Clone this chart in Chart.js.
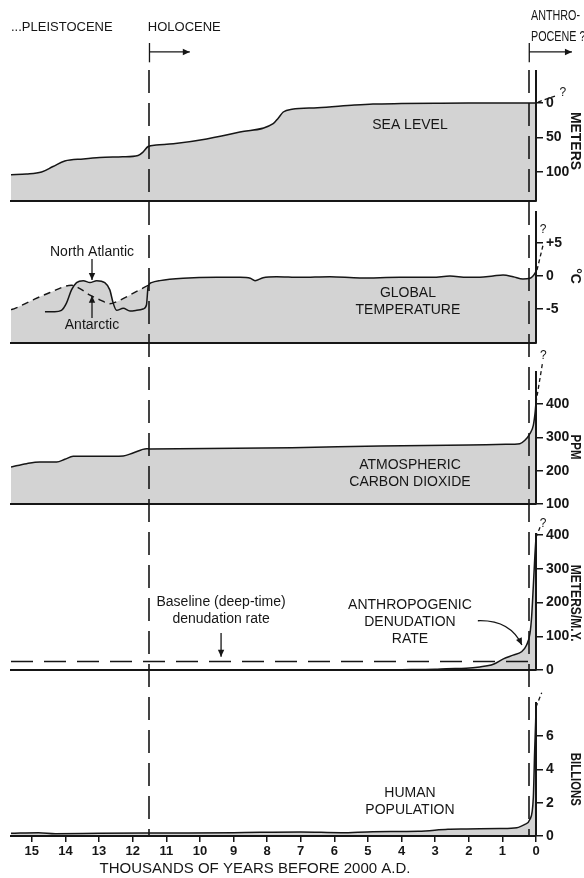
<!DOCTYPE html>
<html>
<head>
<meta charset="utf-8">
<script src="https://cdn.jsdelivr.net/npm/chart.js@4.4.1/dist/chart.umd.min.js"></script>
<style>
  html, body { margin: 0; padding: 0; background: #fff; }
  #wrap { position: relative; width: 584px; height: 878px; }
  #wrap canvas { position: absolute; left: 0; top: 0; }
</style>
</head>
<body>
<div id="wrap">
  <canvas id="seaChart" width="584" height="878"></canvas>
  <canvas id="tempChart" width="584" height="878"></canvas>
  <canvas id="co2Chart" width="584" height="878"></canvas>
  <canvas id="denudeChart" width="584" height="878"></canvas>
  <canvas id="popChart" width="584" height="878"></canvas>
</div>
<script>
// shared time axis: thousands of years before 2000 A.D.
const xTicks = [15, 14, 13, 12, 11, 10, 9, 8, 7, 6, 5, 4, 3, 2, 1, 0];
const eraAges = [11.5, 0.2];   // start of Holocene, start of "Anthropocene"

// sea level, metres below present
const seaAge   = [15.62, 15.16, 14.71, 14.37, 14.02, 13.47, 12.98, 12.3, 11.84, 11.69, 11.54, 11.3, 10.79, 9.8, 8.81, 7.82, 7.67, 7.52, 7.26, 6.5, 5.4, 4.85, 4.0, 3.0, 2.0, 1.0, 0];
const seaDepth = [104, 103, 100, 92, 84, 81, 79, 78, 76, 71, 63, 61, 59, 52, 42, 30, 22, 13, 9, 7, 3, 1.5, 0.8, 0.3, 0, 0, 0];
const seaTicks = [0, 50, 100];

// global temperature (North Atlantic record, then global), deg C
const tempAge   = [14.61, 14.32, 14.12, 13.97, 13.82, 13.67, 13.47, 13.27, 13.07, 12.83, 12.68, 12.58, 12.48, 12.28, 12.08, 11.88, 11.69, 11.59, 11.54, 11.44, 11.19, 10.5, 9.5, 8.8, 8.5, 8.36, 8.12, 7.72, 7.02, 6.13, 5.24, 4.05, 3.07, 2.56, 2.05, 1.67, 1.28, 0.98, 0.68, 0.39, 0.18, 0.09, 0];
const tempValue = [-5.4, -5.4, -5.2, -4.1, -2.1, -1.0, -0.7, -1.0, -0.7, -1.0, -2.1, -4.1, -5.2, -4.9, -5.3, -5.2, -5.0, -4.4, -1.6, -1.0, -0.7, -0.35, -0.2, -0.2, -0.35, -0.7, -0.25, -0.1, -0.2, -0.1, -0.3, -0.2, -0.2, 0, -0.2, -0.2, 0, 0.15, -0.1, -0.45, -0.35, 0, 0.65];
// Antarctic record (dashed)
const antarcticAge   = [15.62, 15.5, 14.96, 14.46, 13.82, 13.57, 13.27, 12.98, 12.68, 12.48, 11.98, 11.54];
const antarcticValue = [-5.1, -4.9, -3.6, -2.5, -1.4, -1.9, -2.9, -3.6, -4.2, -3.9, -2.6, -1.4];
const tempTicks = [5, 0, -5];

// atmospheric CO2, ppm
const co2Age   = [15.62, 15.16, 14.76, 14.26, 14.02, 13.77, 12.98, 12.28, 11.99, 11.59, 11.49, 7.26, 4.64, 2.0, 0.9, 0.48, 0.33, 0.18, 0.08, 0.03, 0];
const co2Value = [211, 221, 226, 226, 234, 243, 243, 244, 253, 266, 265, 269, 274, 277, 279, 281, 291, 311, 336, 371, 405];
const co2Ticks = [100, 200, 300, 400];

// anthropogenic denudation rate, metres per million years
const denudeAge   = [15.62, 5.0, 4.0, 3.0, 2.66, 2.08, 1.67, 1.27, 0.97, 0.68, 0.43, 0.28, 0.18, 0.13, 0.08, 0.03, 0];
const denudeValue = [0, 0, 1, 2, 4, 5, 9, 17, 33, 44, 54, 74, 108, 158, 248, 345, 392];
const baselineAge  = [15.62, 0.09];
const baselineRate = [25, 25];
const denudeTicks = [0, 100, 200, 300, 400];

// human population, billions
const popAge   = [15.62, 14.8, 14.3, 13.0, 11.0, 9.0, 7.0, 5.8, 4.85, 3.5, 2.62, 2.06, 1.07, 0.57, 0.33, 0.18, 0.08, 0.04, 0.01, 0];
const popValue = [0.16, 0.2, 0.14, 0.16, 0.18, 0.2, 0.24, 0.2, 0.26, 0.28, 0.4, 0.42, 0.45, 0.5, 0.7, 1.0, 2.3, 5.1, 6.9, 7.7];
const popTicks = [0, 2, 4, 6];

const INK = '#161616';
const FILL = '#d3d3d3';
const SANS = "'Liberation Sans', Arial, sans-serif";
const X_MAX = 15.62;
const DASH_START = 70;

function pts(xs, ys) {
    return xs.map((x, i) => ({x: x, y: ys[i]}));
}

// era lines, labels, arrows and the unit title, all placed through the panel's own scales
function overlayFor(cfg) {
    return {
        id: 'overlay',
        afterDatasetsDraw(chart) {
            const ctx = chart.ctx;
            const X = v => chart.scales.x.getPixelForValue(v);
            const Y = v => chart.scales.y.getPixelForValue(v);
            ctx.save();
            ctx.strokeStyle = INK;
            ctx.fillStyle = INK;

            ctx.lineWidth = 1.6;
            ctx.setLineDash([23, 10]);
            ctx.lineDashOffset = cfg.band[0] - DASH_START;
            eraAges.forEach(a => {
                const px = Math.round(X(a));
                ctx.beginPath();
                ctx.moveTo(px, cfg.band[0]);
                ctx.lineTo(px, cfg.band[1]);
                ctx.stroke();
            });
            ctx.setLineDash([]);
            ctx.lineDashOffset = 0;

            (cfg.strokes || []).forEach(s => {
                const a = [X(s.from[0]), Y(s.from[1])];
                const b = [X(s.to[0]), Y(s.to[1])];
                ctx.lineWidth = s.width || 1.3;
                ctx.setLineDash(s.dash || []);
                ctx.beginPath();
                ctx.moveTo(a[0], a[1]);
                let d = a;
                if (s.via) {
                    const c = [X(s.via[0]), Y(s.via[1])];
                    ctx.quadraticCurveTo(c[0], c[1], b[0], b[1]);
                    d = c;
                } else {
                    ctx.lineTo(b[0], b[1]);
                }
                ctx.stroke();
                ctx.setLineDash([]);
                if (s.head) {
                    const ang = Math.atan2(b[1] - d[1], b[0] - d[0]);
                    const L = 7, W = 3.2;
                    const cx = b[0] - L * Math.cos(ang), cy = b[1] - L * Math.sin(ang);
                    ctx.beginPath();
                    ctx.moveTo(b[0], b[1]);
                    ctx.lineTo(cx + W * Math.sin(ang), cy - W * Math.cos(ang));
                    ctx.lineTo(cx - W * Math.sin(ang), cy + W * Math.cos(ang));
                    ctx.closePath();
                    ctx.fill();
                }
            });

            (cfg.notes || []).forEach(n => {
                ctx.font = (n.weight || 'normal') + ' ' + (n.size || 14) + 'px ' + SANS;
                ctx.textAlign = n.align || 'center';
                ctx.textBaseline = 'middle';
                const x0 = X(n.x), y0 = Y(n.y);
                n.lines.forEach((t, i) => {
                    ctx.save();
                    ctx.translate(x0, y0 + i * (n.gap || 17));
                    ctx.scale(n.squeeze || 1, 1);
                    ctx.fillText(t, 0, 0);
                    ctx.restore();
                });
            });

            // unit title, rotated to read downwards, condensed to the printed length
            const t = cfg.unit;
            ctx.font = 'bold 14px ' + SANS;
            ctx.textAlign = 'center';
            ctx.textBaseline = 'middle';
            ctx.translate(chart.chartArea.right + 39, Y(t.at));
            ctx.rotate(Math.PI / 2);
            ctx.scale(Math.min(1, t.len / ctx.measureText(t.text).width), 1);
            ctx.fillText(t.text, 0, 0);
            ctx.restore();
        }
    };
}

function xAxis(show) {
    return {
        type: 'linear', min: 0, max: X_MAX, reverse: true,
        border: {display: true, color: INK, width: 2, z: 1},
        grid: {display: show, drawOnChartArea: false, drawTicks: show, tickLength: 6, color: INK, lineWidth: 1.5},
        ticks: {display: show, color: INK, padding: 2, maxRotation: 0, autoSkip: false,
                font: {family: SANS, size: 13, weight: 'bold'}},
        afterBuildTicks: s => { s.ticks = xTicks.map(v => ({value: v})); },
        afterFit: s => { s.height = show ? 42 : 0; }
    };
}

function yAxis(cfg) {
    return {
        type: 'linear', position: 'right', min: cfg.min, max: cfg.max, reverse: !!cfg.reverse,
        border: {display: true, color: INK, width: 2, z: 1},
        grid: {drawOnChartArea: false, drawTicks: true, tickLength: 7, color: INK, lineWidth: 1.5},
        ticks: {color: INK, padding: 3, font: {family: SANS, size: 14, weight: 'bold'},
                callback: cfg.fmt || (v => String(v))},
        afterBuildTicks: s => { s.ticks = cfg.ticks.map(v => ({value: v})); },
        title: {display: false, text: cfg.unit.text},
        afterFit: s => { s.width = 48; }
    };
}

function panel(id, cfg) {
    return new Chart(document.getElementById(id), {
        type: 'line',
        data: {datasets: cfg.datasets},
        options: {
            responsive: false,
            animation: false,
            devicePixelRatio: 1,
            events: [],
            layout: {padding: {left: 11, right: 0, top: cfg.area[0],
                               bottom: 878 - cfg.area[1] - (cfg.showX ? 42 : 0)}},
            elements: {point: {radius: 0, hoverRadius: 0}},
            plugins: {
                legend: {display: false},
                tooltip: {enabled: false},
                filler: {drawTime: 'beforeDatasetsDraw'}
            },
            scales: {x: xAxis(!!cfg.showX), y: yAxis(cfg)}
        },
        plugins: [overlayFor(cfg)]
    });
}

function curve(data, extra) {
    return Object.assign({
        data: data,
        borderColor: INK,
        borderWidth: 1.5,
        backgroundColor: FILL,
        fill: 'start',
        pointRadius: 0,
        cubicInterpolationMode: 'monotone'
    }, extra || {});
}

// SEA LEVEL
panel('seaChart', {
    area: [71, 201], band: [DASH_START, 206],
    min: -46.4, max: 142, reverse: true, ticks: seaTicks,
    unit: {text: 'METERS', at: 55, len: 58},
    datasets: [curve(pts(seaAge, seaDepth))],
    notes: [
        {x: 3.75, y: 32, lines: ['SEA LEVEL']},
        {x: X_MAX, y: -110, lines: ['...PLEISTOCENE'], align: 'left', size: 13},
        {x: 11.55, y: -110, lines: ['HOLOCENE'], align: 'left', size: 13},
        {x: 0.15, y: -126, lines: ['ANTHRO-', 'POCENE ?'], align: 'left', size: 14, squeeze: 0.77, gap: 21},
        {x: -0.8, y: -15, lines: ['?'], size: 12}
    ],
    strokes: [
        {from: [11.5, -87], to: [11.5, -59]},
        {from: [11.5, -74], to: [10.3, -74], head: true},
        {from: [0.2, -87], to: [0.2, -59]},
        {from: [0.2, -74], to: [-1.07, -74], head: true},
        {from: [-0.06, -1.4], to: [-0.65, -11.6], dash: [4, 3]}
    ]
});

// GLOBAL TEMPERATURE
panel('tempChart', {
    area: [212, 343], band: [206, 348],
    min: -10.15, max: 9.7, ticks: tempTicks,
    unit: {text: '°C', at: 0, len: 16},
    fmt: v => (v > 0 ? '+' + v : String(v)),
    datasets: [
        curve(pts(tempAge, tempValue)),
        curve(pts(antarcticAge, antarcticValue), {borderDash: [7, 5], borderWidth: 1.4})
    ],
    notes: [
        {x: 3.81, y: -2.58, lines: ['GLOBAL', 'TEMPERATURE']},
        {x: 13.21, y: 3.64, lines: ['North Atlantic']},
        {x: 13.21, y: -7.42, lines: ['Antarctic']},
        {x: -0.21, y: 6.97, lines: ['?'], size: 12}
    ],
    strokes: [
        {from: [13.21, 2.58], to: [13.21, -0.6], head: true},
        {from: [13.21, -6.36], to: [13.21, -3.0], head: true},
        {from: [-0.03, 0.9], to: [-0.21, 4.7], dash: [4, 3]}
    ]
});

// ATMOSPHERIC CARBON DIOXIDE
panel('co2Chart', {
    area: [372, 504], band: [348, 509],
    min: 100, max: 496, ticks: co2Ticks,
    unit: {text: 'PPM', at: 271, len: 25},
    datasets: [curve(pts(co2Age, co2Value))],
    notes: [
        {x: 3.75, y: 216, lines: ['ATMOSPHERIC', 'CARBON DIOXIDE']},
        {x: -0.22, y: 545, lines: ['?'], size: 12}
    ],
    strokes: [
        {from: [0, 404], to: [-0.19, 521], dash: [4, 3]}
    ]
});

// DENUDATION RATE
panel('denudeChart', {
    area: [534, 670], band: [509, 675],
    min: 0, max: 403, ticks: denudeTicks,
    unit: {text: 'METERS/M.Y.', at: 198, len: 77},
    datasets: [
        curve(pts(denudeAge, denudeValue)),
        curve(pts(baselineAge, baselineRate), {fill: false, borderDash: [22, 11], borderWidth: 1.6,
                                               cubicInterpolationMode: 'default'})
    ],
    notes: [
        {x: 9.37, y: 202, lines: ['Baseline (deep-time)', 'denudation rate']},
        {x: 3.75, y: 193, lines: ['ANTHROPOGENIC', 'DENUDATION', 'RATE']},
        {x: -0.21, y: 434, lines: ['?'], size: 12}
    ],
    strokes: [
        {from: [9.37, 110], to: [9.37, 39], head: true},
        {from: [1.73, 146], via: [0.77, 149], to: [0.42, 74], head: true},
        {from: [0, 393], to: [-0.12, 423], dash: [4, 3]}
    ]
});

// HUMAN POPULATION
panel('popChart', {
    area: [703, 836], band: [675, 836], showX: true,
    min: 0, max: 7.98, ticks: popTicks,
    unit: {text: 'BILLIONS', at: 3.4, len: 53},
    datasets: [curve(pts(popAge, popValue))],
    notes: [
        {x: 3.75, y: 2.58, lines: ['HUMAN', 'POPULATION']},
        {x: 8.36, y: -1.98, lines: ['THOUSANDS OF YEARS BEFORE 2000 A.D.'], size: 15}
    ],
    strokes: [
        {from: [0, 7.74], to: [-0.17, 8.6], dash: [4, 3]}
    ]
});
</script>
</body>
</html>
